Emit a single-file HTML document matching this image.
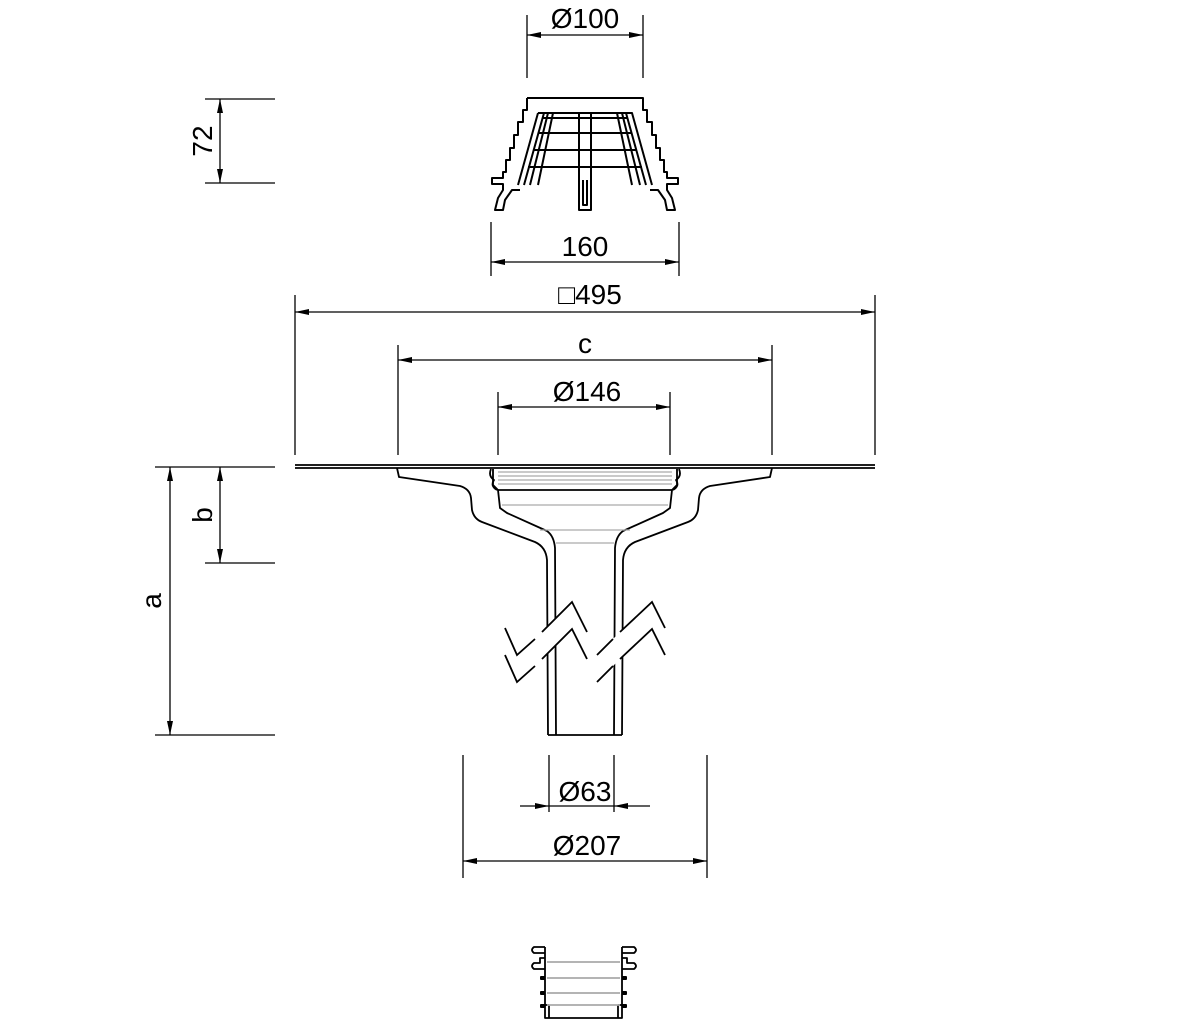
<!DOCTYPE html>
<html><head><meta charset="utf-8"><style>
html,body{margin:0;padding:0;background:#fff}
svg{display:block}
text{font-family:"Liberation Sans",sans-serif;font-size:28px;fill:#000}
</style></head><body>
<svg width="1200" height="1022" viewBox="0 0 1200 1022" xmlns="http://www.w3.org/2000/svg">
<defs>
<marker id="a" viewBox="0 0 14 6" refX="14" refY="3" markerWidth="14" markerHeight="6" orient="auto-start-reverse" markerUnits="userSpaceOnUse"><path d="M0,0L14,3L0,6z" fill="#000"/></marker>
</defs>
<g stroke="#000" stroke-width="1.3" fill="none">
<line x1="527" y1="15" x2="527" y2="78"/><line x1="643" y1="15" x2="643" y2="78"/>
<line x1="205" y1="99" x2="275" y2="99"/><line x1="205" y1="183" x2="275" y2="183"/>
<line x1="491" y1="222" x2="491" y2="276"/><line x1="679" y1="222" x2="679" y2="276"/>
<line x1="295" y1="295" x2="295" y2="455"/><line x1="875" y1="295" x2="875" y2="455"/>
<line x1="398" y1="345" x2="398" y2="455"/><line x1="772" y1="345" x2="772" y2="455"/>
<line x1="498" y1="392" x2="498" y2="455"/><line x1="670" y1="392" x2="670" y2="455"/>
<line x1="155" y1="467" x2="275" y2="467"/><line x1="155" y1="735" x2="275" y2="735"/>
<line x1="205" y1="563" x2="275" y2="563"/>
<line x1="549" y1="755" x2="549" y2="812"/><line x1="614" y1="755" x2="614" y2="812"/>
<line x1="463" y1="755" x2="463" y2="878"/><line x1="707" y1="755" x2="707" y2="878"/>
<line x1="527" y1="35" x2="643" y2="35" marker-start="url(#a)" marker-end="url(#a)"/>
<line x1="220" y1="99" x2="220" y2="183" marker-start="url(#a)" marker-end="url(#a)"/>
<line x1="491" y1="262" x2="679" y2="262" marker-start="url(#a)" marker-end="url(#a)"/>
<line x1="295" y1="312" x2="875" y2="312" marker-start="url(#a)" marker-end="url(#a)"/>
<line x1="398" y1="360" x2="772" y2="360" marker-start="url(#a)" marker-end="url(#a)"/>
<line x1="498" y1="407" x2="670" y2="407" marker-start="url(#a)" marker-end="url(#a)"/>
<line x1="170" y1="467" x2="170" y2="735" marker-start="url(#a)" marker-end="url(#a)"/>
<line x1="220" y1="467" x2="220" y2="563" marker-start="url(#a)" marker-end="url(#a)"/>
<line x1="520" y1="806" x2="549" y2="806" marker-end="url(#a)"/>
<line x1="650" y1="806" x2="614" y2="806" marker-end="url(#a)"/>
<line x1="549" y1="806" x2="614" y2="806"/>
<line x1="463" y1="861" x2="707" y2="861" marker-start="url(#a)" marker-end="url(#a)"/>
</g>
<text x="585" y="28" text-anchor="middle">Ø100</text>
<text x="585" y="256" text-anchor="middle">160</text>
<text x="590" y="304" text-anchor="middle">□495</text>
<text x="585" y="353" text-anchor="middle">c</text>
<text x="587" y="401" text-anchor="middle">Ø146</text>
<text x="585" y="801" text-anchor="middle">Ø63</text>
<text x="587" y="855" text-anchor="middle">Ø207</text>
<text transform="translate(212,141) rotate(-90)" text-anchor="middle">72</text>
<text transform="translate(212,515) rotate(-90)" text-anchor="middle">b</text>
<text transform="translate(161,601) rotate(-90)" text-anchor="middle">a</text>

<g stroke="#000" stroke-width="2" fill="none" stroke-linejoin="round">
<path d="M527,98 H643 V110 H647 V122 H652 V135 H656 V148 H660 V160 H664 V172 H667 V178 H678 V184 H667 V190 L672,198 L675,210 H667 L665,200 L658,190 H650"/>
<path d="M527,98 V110 H523 V122 H518 V135 H514 V148 H510 V160 H506 V172 H503 V178 H492 V184 H503 V190 L498,198 L495,210 H503 L505,200 L512,190 H520"/>
<path d="M538,113 H632 L652,185 M538,113 L518,185"/>
<path d="M544,113 L524,185 M626,113 L646,185"/>
<path d="M548,113 L530,185 M622,113 L640,185"/>
<path d="M553,113 L538,185 M617,113 L632,185"/>
<path d="M542,118 H628 M538,133 H632 M533,150 H637 M528,167 H642"/>
<path d="M579,113 V210 H591 V113 M583,180 V205 H587 V180"/>
</g>

<g stroke="#000" stroke-width="1.8" fill="none" stroke-linejoin="round">
<line x1="295" y1="465" x2="875" y2="465"/>
<line x1="295" y1="468" x2="875" y2="468"/>
<path d="M397,468 L399,477 L460,486 Q470,489 471,498 L472,510 Q474,519 482,522 L535,542 Q546,547 547,560 L548,735"/>
<path d="M772,468 L770,477 L710,486 Q700,489 699,498 L698,510 Q696,519 688,522 L635,542 Q624,547 623,560 L622,735"/>
<path d="M498,490 L500,508 L507,513 L547,531 Q554,536 555,548 L556,735"/>
<path d="M672,490 L670,508 L663,513 L623,531 Q616,536 615,548 L614,735"/>
<line x1="548" y1="735" x2="622" y2="735"/>
<path d="M493,469 L493,485 L498,490 H672 L677,485 L677,469"/>
<path d="M491,469 Q488,476 494,480 Q490,486 497,490 M679,469 Q682,476 676,480 Q680,486 673,490"/>
</g>
<g stroke="#aaa" stroke-width="1.3">
<line x1="498" y1="472" x2="672" y2="472"/><line x1="498" y1="476" x2="672" y2="476"/>
<line x1="498" y1="480" x2="672" y2="480"/><line x1="498" y1="484" x2="672" y2="484"/>
<line x1="502" y1="505" x2="668" y2="505"/><line x1="540" y1="530" x2="630" y2="530"/>
<line x1="556" y1="543" x2="614" y2="543"/>
</g>
<path d="M505,628 L517,655 L535,639 L542,632 L572,602 L587,632 L597,655 L613,639 L620,632 L652,602 L665,628 L665,655 L652,629 L620,659 L613,666 L597,682 L587,659 L572,629 L542,659 L535,666 L517,682 L505,655 Z" fill="#fff" stroke="none"/>
<g stroke="#000" stroke-width="1.8" fill="none">
<path d="M505,628 L517,655 L535,639 M542,632 L572,602 L587,632 M597,655 L613,639 M620,632 L652,602 L665,628"/>
<path d="M505,655 L517,682 L535,666 M542,659 L572,629 L587,659 M597,682 L613,666 M620,659 L652,629 L665,655"/>
</g>

<g stroke="#000" stroke-width="1.8" fill="none" stroke-linejoin="round">
<path d="M545,947 V1018 H622 V947"/>
<path d="M545,947 H534 Q530,950 534,953 H545 M545,958 H540 V963 H534 Q530,966 534,969 H545"/>
<path d="M622,947 H634 Q638,950 634,953 H622 M622,958 H627 V963 H634 Q638,966 634,969 H622"/>
<path d="M549,1005 V1018 M618,1005 V1018 M545,1005 H549 M618,1005 H622"/>
</g>
<g fill="#000">
<rect x="540" y="976" width="5" height="4" rx="1"/><rect x="540" y="991" width="5" height="4" rx="1"/><rect x="540" y="1004" width="5" height="4" rx="1"/>
<rect x="622" y="976" width="5" height="4" rx="1"/><rect x="622" y="991" width="5" height="4" rx="1"/><rect x="622" y="1004" width="5" height="4" rx="1"/>
</g>
<g stroke="#aaa" stroke-width="1.8">
<line x1="547" y1="962" x2="620" y2="962"/><line x1="547" y1="978" x2="620" y2="978"/>
<line x1="547" y1="993" x2="620" y2="993"/><line x1="547" y1="1005" x2="620" y2="1005"/>
</g>
</svg>
</body></html>
